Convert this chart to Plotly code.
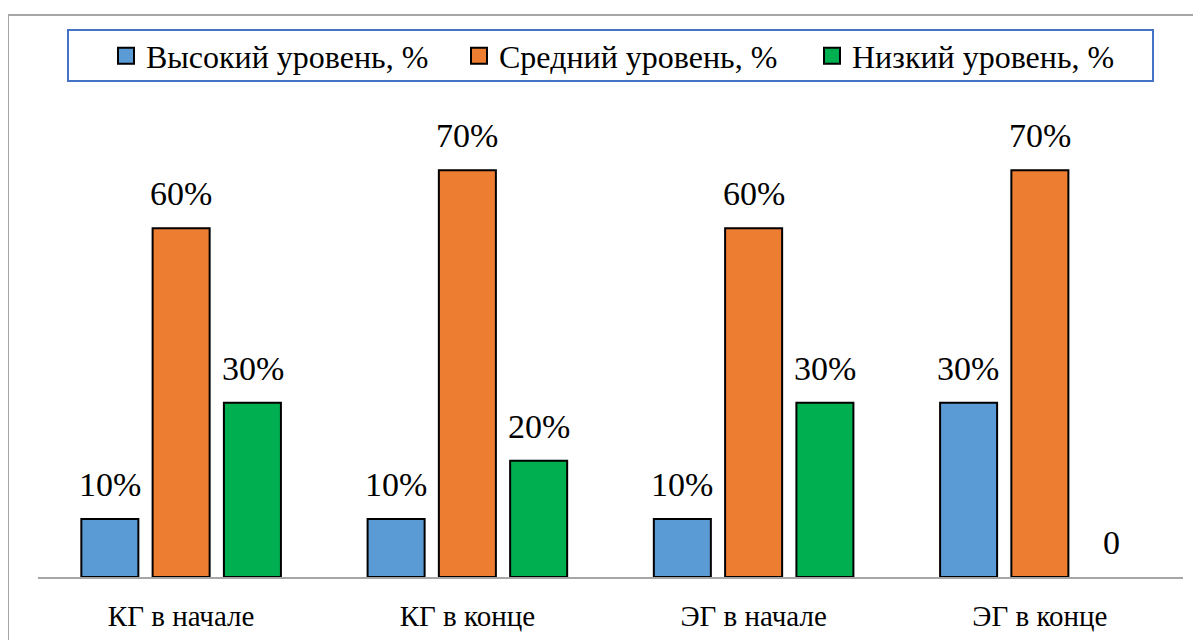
import plotly.graph_objects as go

categories = ["КГ в начале", "КГ в конце", "ЭГ в начале", "ЭГ в конце"]
series_names = ["Высокий уровень, %", "Средний уровень, %", "Низкий уровень, %"]
high = [10, 10, 10, 30]
medium = [60, 70, 60, 70]
low = [30, 20, 30, 0]
colors = ["#5B9BD5", "#ED7D31", "#00B050"]

SERIF = "Liberation Serif"

OFF = 8  # page body offset
W, H = 1201 - OFF, 640 - OFF
ML, MR, MT, MB = 38 - OFF, 18, 112 - OFF, 63
PW, PH = W - ML - MR, H - MT - MB

def px2paper_x(px):
    return (px - OFF - ML) / PW

def px2paper_y(py):
    return (H - MB - (py - OFF)) / PH

BAR_SLOT = 71.5  # px offset between grouped bars (for label placement)

fig = go.Figure()
annotations = []
for i, (name, vals, col) in enumerate(zip(series_names, [high, medium, low], colors)):
    fig.add_trace(go.Bar(
        name=name, x=categories, y=vals, showlegend=False,
        marker=dict(color=col, line=dict(color="black", width=[2 if v else 0 for v in vals])),
    ))
    # legend proxy with larger square symbol
    fig.add_trace(go.Scatter(
        name=name, x=[None], y=[None], mode="markers",
        marker=dict(symbol="square", size=18, color=col, line=dict(color="black", width=2)),
    ))
    for cat, v in zip(categories, vals):
        annotations.append(dict(
            x=cat, y=v, xref="x", yref="y", text=f"{v}%" if v else "0",
            showarrow=False, yanchor="bottom", xanchor="center",
            xshift=(i - 1) * BAR_SLOT, yshift=14,
            font=dict(family=SERIF, size=34, color="black"),
        ))

fig.update_layout(
    width=W, height=H,
    margin=dict(l=ML, r=MR, t=MT, b=MB, autoexpand=False),
    paper_bgcolor="white", plot_bgcolor="white",
    barmode="group", bargap=0.253, bargroupgap=0.2,
    font=dict(family=SERIF, color="black", size=30),
    showlegend=True,
    legend=dict(
        orientation="h", x=px2paper_x(106), xanchor="left",
        y=px2paper_y(56), yanchor="middle",
        borderwidth=0, bgcolor="rgba(0,0,0,0)",
        font=dict(family=SERIF, size=32, color="black"),
        entrywidth=308, entrywidthmode="pixels",
        itemwidth=30,
    ),
    annotations=annotations,
    xaxis=dict(showline=True, linecolor="#A6A6A6", linewidth=2, automargin=False,
               ticks="", tickfont=dict(family=SERIF, size=29, color="black"),
               ticklabelstandoff=12, showgrid=False),
    yaxis=dict(range=[0, 80], visible=False, showgrid=False, zeroline=False,
               automargin=False),
    shapes=[
        dict(type="rect", xref="paper", yref="paper",
             x0=px2paper_x(8), x1=px2paper_x(1215),
             y0=px2paper_y(660), y1=px2paper_y(15),
             line=dict(color="#A6A6A6", width=2), layer="below"),
        dict(type="rect", xref="paper", yref="paper",
             x0=px2paper_x(68), x1=px2paper_x(1153),
             y0=px2paper_y(81), y1=px2paper_y(30),
             line=dict(color="#4472C4", width=2), layer="below"),
    ],
)

fig.write_html("out.html")
